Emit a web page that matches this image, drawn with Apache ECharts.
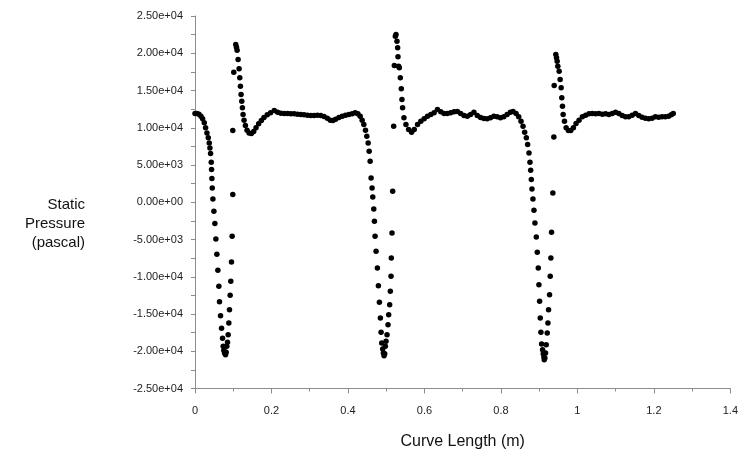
<!DOCTYPE html>
<html>
<head>
<meta charset="utf-8">
<script src="https://cdn.jsdelivr.net/npm/echarts@6/dist/echarts.min.js"></script>
<style>html,body{margin:0;padding:0;background:#fff;}#c{width:741px;height:457px;}</style>
</head>
<body>
<div id="c"></div>
<script>
// Curve length (m) and static pressure (Pa), in three stretches
const seg1X = [0.0000,0.0052,0.0104,0.0156,0.0199,0.0243,0.0277,0.0312,0.0347,0.0373,0.0390,0.0407,0.0425,0.0433,0.0442,0.0451,0.0468,0.0494,0.0520,0.0546,0.0572,0.0598,0.0624,0.0641,0.0668,0.0694,0.0720,0.0737,0.0754,0.0772,0.0798,0.0815,0.0832,0.0850,0.0867,0.0885,0.0902,0.0919,0.0936,0.0954,0.0971,0.0988,0.0988,0.1014,0.1066,0.1084,0.1101,0.1127,0.1153,0.1171,0.1188,0.1205,0.1223,0.1240,0.1257,0.1283,0.1318,0.1361,0.1414,0.1474,0.1535,0.1596,0.1665,0.1735,0.1804,0.1890,0.1977,0.2073,0.2160,0.2246,0.2333,0.2420,0.2506,0.2593,0.2680,0.2767,0.2853,0.2940,0.3027,0.3114,0.3200,0.3287,0.3374,0.3460,0.3538,0.3608,0.3677,0.3764,0.3851,0.3938,0.4024,0.4111,0.4189,0.4259,0.4319,0.4371,0.4415,0.4458,0.4493,0.4528,0.4554,0.4580];
const seg1Y = [11909,11909,11820,11551,11193,10655,9984,9312,8641,7969,7298,6536,5372,4387,3179,1925,448,-1209,-2865,-4925,-6984,-9133,-11282,-13341,-15222,-16923,-18266,-19341,-19878,-20236,-20460,-20147,-19341,-18803,-17774,-16207,-14416,-12491,-10610,-8014,-4567,1030,9626,17460,21176,20818,20415,19162,17908,16699,15580,14461,13565,12670,11775,11013,10297,9670,9312,9223,9491,9984,10521,10969,11372,11730,11999,12312,12088,11954,11909,11909,11864,11864,11820,11775,11730,11685,11640,11640,11685,11640,11506,11282,11013,10969,11148,11372,11551,11685,11775,11864,11999,11864,11551,11013,10431,9670,8865,7969,6850,5507];

const seg2X = [0.4605,0.4631,0.4649,0.4675,0.4692,0.4709,0.4735,0.4770,0.4796,0.4822,0.4848,0.4866,0.4883,0.4909,0.4926,0.4944,0.4961,0.4978,0.4996,0.5022,0.5048,0.5065,0.5091,0.5108,0.5126,0.5134,0.5152,0.5169,0.5195,0.5213,0.5239,0.5256,0.5282,0.5299,0.5308,0.5325,0.5343,0.5369,0.5395,0.5412,0.5429,0.5464,0.5516,0.5586,0.5664,0.5733,0.5820,0.5906,0.5993,0.6080,0.6167,0.6253,0.6340,0.6427,0.6514,0.6600,0.6687,0.6774,0.6861,0.6947,0.7034,0.7121,0.7208,0.7294,0.7381,0.7468,0.7554,0.7641,0.7728,0.7815,0.7901,0.7988,0.8075,0.8162,0.8248,0.8318,0.8396,0.8465,0.8526,0.8578,0.8621,0.8665,0.8699,0.8734,0.8760,0.8778,0.8795,0.8812,0.8838,0.8864,0.8890,0.8925,0.8951,0.8977,0.8994,0.9012,0.9029,0.9046,0.9064,0.9090,0.9107,0.9124,0.9133,0.9150,0.9168,0.9185,0.9211,0.9229,0.9246,0.9272,0.9289,0.9306,0.9324,0.9358,0.9384,0.9393];
const seg2Y = [3268,1925,716,-895,-2552,-4567,-6581,-8820,-11193,-13431,-15535,-17460,-18893,-19699,-20236,-20594,-20326,-19341,-18669,-17774,-16431,-15087,-13744,-11954,-9939,-7477,-4119,1477,10208,18356,22295,22519,21624,20728,19520,18266,18042,16699,15222,13789,12670,11327,10431,9760,9402,9760,10431,10879,11193,11551,11775,11999,12446,12133,11909,11909,11999,12133,12177,11909,11640,11551,11775,12088,11640,11372,11237,11193,11327,11551,11461,11327,11461,11775,12088,12177,11909,11461,10879,10208,9402,8641,7745,6626,5372,4298,3044,1791,448,-1074,-2776,-4656,-6716,-8820,-11058,-13297,-15535,-17460,-19027,-19788,-20326,-20773,-21131,-20908,-20236,-19117,-17550,-16207,-14416,-12401,-9939,-7477,-4029,1254,8775,15670];

const seg3X = [0.9436,0.9454,0.9471,0.9488,0.9523,0.9549,0.9575,0.9592,0.9610,0.9627,0.9662,0.9705,0.9766,0.9827,0.9896,0.9965,1.0043,1.0130,1.0217,1.0304,1.0390,1.0477,1.0564,1.0651,1.0737,1.0824,1.0911,1.0998,1.1084,1.1171,1.1258,1.1344,1.1431,1.1518,1.1605,1.1691,1.1778,1.1865,1.1952,1.2038,1.2125,1.2212,1.2299,1.2385,1.2455,1.2507];
const seg3Y = [19833,19386,18938,18266,17595,16476,15356,14013,12894,11775,10879,9984,9626,9626,9984,10566,11013,11461,11685,11864,11909,11864,11909,11820,11864,11775,11909,12088,11909,11640,11461,11461,11685,11909,11640,11416,11282,11193,11282,11461,11416,11461,11461,11551,11730,11909];

const xTitle = 'Curve Length (m)';
const yTitle = 'Static\nPressure\n(pascal)';

function pairs(xs, ys) {
  const out = [];
  const n = Math.min(xs.length, ys.length);
  for (let i = 0; i < n; i++) out.push([xs[i], ys[i]]);
  return out;
}
const points = [].concat(pairs(seg1X, seg1Y), pairs(seg2X, seg2Y), pairs(seg3X, seg3Y));

function sci(v) {
  if (v === 0) return '0.00e+00';
  const s = v.toExponential(2);
  const parts = s.split('e');
  const sign = parts[1][0];
  const d = parts[1].slice(1).padStart(2, '0');
  return parts[0] + 'e' + sign + d;
}

const FONT = 'Arial, "Liberation Sans", sans-serif';
const chart = echarts.init(document.getElementById('c'), null, { renderer: 'canvas' });
chart.setOption({
  animation: false,
  backgroundColor: '#ffffff',
  grid: { left: 195, right: 9, top: 16, bottom: 68.5, containLabel: false },
  graphic: [{
    type: 'text',
    x: 85, y: 224,
    style: {
      text: yTitle, fill: '#111', font: '15px ' + FONT,
      textAlign: 'right', textVerticalAlign: 'middle', lineHeight: 19
    }
  }],
  xAxis: {
    type: 'value', min: 0, max: 1.4, interval: 0.2,
    name: xTitle, nameLocation: 'middle', nameGap: 45,
    nameTextStyle: { color: '#111', fontSize: 16, fontFamily: FONT },
    axisLine: { show: true, onZero: false, lineStyle: { color: '#8c8c8c', width: 1 } },
    axisTick: { show: true, length: 5, lineStyle: { color: '#8c8c8c' } },
    minorTick: { show: true, splitNumber: 2, length: 3, lineStyle: { color: '#8c8c8c' } },
    splitLine: { show: false },
    axisLabel: { color: '#222', fontSize: 11, fontFamily: FONT, margin: 17 }
  },
  yAxis: {
    type: 'value', min: -25000, max: 25000, interval: 5000,
    axisLine: { show: true, onZero: false, lineStyle: { color: '#8c8c8c', width: 1 } },
    axisTick: { show: true, length: 4, lineStyle: { color: '#8c8c8c' } },
    minorTick: { show: true, splitNumber: 2, length: 4, lineStyle: { color: '#8c8c8c' } },
    splitLine: { show: false },
    axisLabel: { color: '#222', fontSize: 11, fontFamily: FONT, margin: 12, formatter: sci }
  },
  series: [{
    type: 'scatter',
    data: points,
    symbol: 'circle',
    symbolSize: 5.5,
    itemStyle: { color: '#000', opacity: 1 },
    silent: true
  }]
});
</script>
</body>
</html>
